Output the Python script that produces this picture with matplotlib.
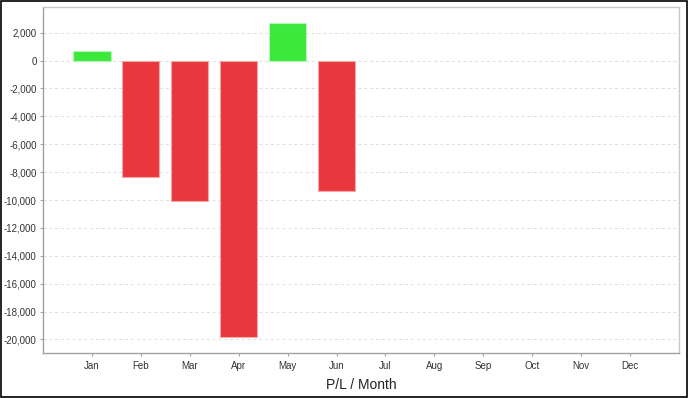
import matplotlib
matplotlib.use("Agg")
import matplotlib.pyplot as plt
from matplotlib.ticker import FuncFormatter
from matplotlib.patches import Rectangle
import numpy as np

plt.rcParams['font.family'] = ['Liberation Sans', 'DejaVu Sans']

months = ["Jan", "Feb", "Mar", "Apr", "May", "Jun", "Jul", "Aug", "Sep", "Oct", "Nov", "Dec"]
pl_values = [700, -8330, -10050, -19820, 2710, -9350]
y_ticks = [2000, 0, -2000, -4000, -6000, -8000, -10000, -12000, -14000, -16000, -18000, -20000]

fig = plt.figure(figsize=(6.88, 3.98), dpi=100)
fig.patches.append(Rectangle((0.0008, 0.002), 0.998, 0.996, transform=fig.transFigure,
                             fill=False, edgecolor="black", linewidth=1.2))
ax = fig.add_axes([0.0625, 0.113, 0.9245, 0.869])

x = np.arange(len(pl_values))
colors = ["#3DE83D" if v >= 0 else "#E8383D" for v in pl_values]
edges = ["#B5F5B5" if v >= 0 else "#F4A5A8" for v in pl_values]
ax.bar(x, pl_values, width=0.76, color=colors, edgecolor=edges, linewidth=0.8, zorder=3)

ax.set_xlim(-1, 12)
ax.set_ylim(-20970, 3830)
ax.set_xticks(np.arange(len(months)))
ax.set_xticklabels(months)
ax.set_yticks(y_ticks)
ax.yaxis.set_major_formatter(FuncFormatter(lambda v, p: f"{int(v):,}"))
ax.grid(axis="y", color="#DDDDDD", linestyle=(0, (3, 3)), linewidth=0.7, zorder=0)

for s in ["left", "bottom", "top", "right"]:
    ax.spines[s].set_color("#A0A0A0")
    ax.spines[s].set_linewidth(1.0)
ax.spines["top"].set_color("#C8C8C8")
ax.spines["right"].set_color("#C8C8C8")

ax.tick_params(axis="both", labelsize=7, colors="#A0A0A0", labelcolor="#333333",
               length=2.5, width=0.8)
ax.tick_params(axis="x", pad=3)
ax.tick_params(axis="y", pad=2)
ax.set_xlabel("P/L / Month", fontsize=10, color="#222222", labelpad=5)

fig.savefig("out.png", dpi=100)
